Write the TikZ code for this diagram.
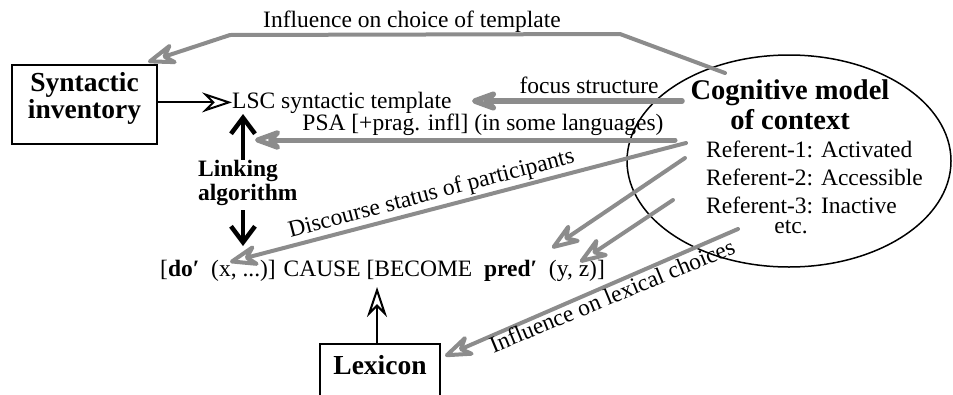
\documentclass[tikz,border=0pt]{standalone}
\usepackage{fontspec}
\setmainfont{Liberation Serif}
\usetikzlibrary{arrows.meta,shapes.geometric}
\definecolor{infogray}{RGB}{140,140,140}
\tikzset{
  txt/.style={inner sep=0pt, font=\fontsize{23.5}{28}\selectfont},
  boxlabel/.style={draw, line width=2pt, inner sep=0pt, font=\fontsize{27.5}{25}\selectfont\bfseries},
  influence/.style={draw=infogray, line width=4pt, line join=round, line cap=round,
    -{Stealth[open, round, length=36pt, width=26pt, inset=12pt]}},
  feed/.style={draw, line width=2pt, -{Stealth[open, length=30pt, width=20pt, inset=10pt]}},
  linkarrow/.style={draw, line width=4.5pt, -{Straight Barb[length=16pt, width=24pt]}},
}
\begin{document}
\begin{tikzpicture}[x=1pt, y=-1pt]
\useasboundingbox (0,0) rectangle (953,394);
\clip (0,0) rectangle (953,394);

% cognitive model of context (multi-line nodes sit on their last baseline)
\node[draw, ellipse, line width=1.5pt, minimum width=324pt, minimum height=212pt, inner sep=0pt] (ctx) at (789,161) {};
\node[txt, font=\fontsize{28.5}{30}\selectfont\bfseries, align=center, anchor=base] (cogtitle) at (790,129) {Cognitive model\\of context};
\node[txt, align=left, anchor=base west] (refs) at (706,213) {Referent-1: Activated\\Referent-2: Accessible\\Referent-3: Inactive};
\node[txt, anchor=base] (etc) at (791,233) {etc.};

% boxes: text height/depth fix the frame around the last baseline
\node[boxlabel, align=center, minimum width=145pt, anchor=base, text height=53pt, text depth=26pt] (syn) at (84.5,118) {Syntactic\\inventory};
\node[boxlabel, minimum width=120pt, anchor=north, text height=30pt, text depth=37pt] (lex) at (380,343) {Lexicon};

% templates and linking
\node[txt, anchor=base west] (lsc) at (232,108) {LSC syntactic template};
\node[txt, anchor=base west] (lcs) at (160,276) {[\textbf{do′}\ \ (x, ...)] CAUSE [BECOME\ \ \textbf{pred′}\ \ (y, z)]};
\node[txt, font=\fontsize{23.5}{23.5}\selectfont\bfseries, align=left, anchor=base west] (link) at (198,200) {Linking\\algorithm};

% end points of the connectors
\coordinate (upTip) at (243,114);
\coordinate (downTip) at (243,246);
\coordinate (becomeTip) at (377,287);
\coordinate (ctxTop) at (725,73);
\coordinate (synTip) at (148,62);
\coordinate (ctxFocus) at (682,101);
\coordinate (focusTip) at (472,101);
\coordinate (ctxPSA) at (675,140);
\coordinate (psaTip) at (255,140);
\coordinate (ctxDisc) at (686,143);
\coordinate (discTip) at (230,262);
\coordinate (ctxRefA) at (685,158);
\coordinate (predTipA) at (552,248);
\coordinate (ctxRefB) at (673,200);
\coordinate (predTipB) at (580,262);
\coordinate (ctxLex) at (738,229);
\coordinate (lexTip) at (445,356);

% black connectors
\draw[feed] (syn.east |- lsc.west) -- (lsc.west);
\draw[feed] (lex.north -| becomeTip) -- (becomeTip);
\draw[linkarrow] (link.north -| upTip) -- (upTip);
\draw[linkarrow, shorten <=5pt] (link.south -| downTip) -- (downTip);

% influences of the context
\draw[influence] (ctxTop) -- (620,34) -- (230,35) -- (synTip);
\draw[influence, line width=5.5pt] (ctxFocus) -- (focusTip);
\draw[influence, line width=5pt] (ctxPSA) -- (psaTip);
\draw[influence] (ctxDisc) -- (discTip);
\draw[influence] (ctxRefA) -- (predTipA);
\draw[influence] (ctxRefB) -- (predTipB);
\draw[influence] (ctxLex) -- (lexTip);

% labels of the influences
\node[txt, anchor=base] (lblTemplate) at (412,27) {Influence on choice of template};
\node[txt, anchor=base] (lblFocus) at (589,93) {focus structure};
\node[txt, anchor=base] (lblPSA) at (483,130) {PSA [+prag. infl] (in some languages)};
\node[txt, anchor=base, rotate=14.7] (lblDisc) at (433,200) {Discourse status of participants};
\node[txt, anchor=base, rotate=22.5] (lblLex) at (615,303) {Influence on lexical choices};
\end{tikzpicture}
\end{document}
